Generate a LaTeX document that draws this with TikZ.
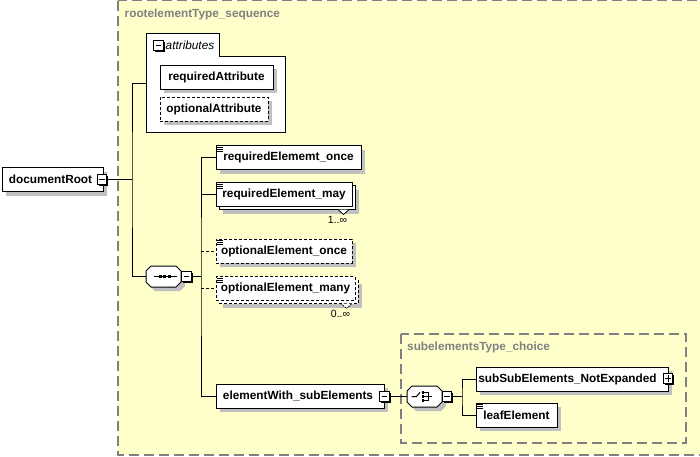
\documentclass[tikz,border=0pt]{standalone}
\usepackage{fontspec}
\setmainfont{Liberation Sans}
\usetikzlibrary{shadows}
\definecolor{bgyellow}{RGB}{255,255,204}
\definecolor{shadowgray}{RGB}{192,192,192}
\definecolor{labelgray}{RGB}{128,128,128}
\newcommand{\octo}[3]{%
\path[#3] ({#1-12.5},{#2-10.5}) -- ({#1+12.5},{#2-10.5}) -- ({#1+17.5},{#2-5.5}) -- ({#1+17.5},{#2+5.5}) -- ({#1+12.5},{#2+10.5}) -- ({#1-12.5},{#2+10.5}) -- ({#1-17.5},{#2+5.5}) -- ({#1-17.5},{#2-5.5}) -- cycle;}
\tikzset{
  elem/.style={draw, fill=white, line width=1pt, inner sep=0pt, minimum height=24pt,
    font=\fontsize{11.8}{13}\selectfont\bfseries},
  shad/.style={general shadow={fill=shadowgray, shadow xshift=4pt, shadow yshift=-4pt}},
  opt/.style={dash pattern=on 3pt off 2pt},
  simple/.style={path picture={
    \draw[line width=0.9pt, solid] ([shift={(1pt,-1.5pt)}]path picture bounding box.north west) -- ++(6pt,0);
    \draw[line width=0.9pt, solid] ([shift={(1pt,-3.5pt)}]path picture bounding box.north west) -- ++(6pt,0);
    \draw[line width=0.9pt, solid] ([shift={(1pt,-5.5pt)}]path picture bounding box.north west) -- ++(6pt,0);}},
  tog/.style={draw, fill=white, line width=0.8pt, minimum size=9.5pt, inner sep=0pt,
    general shadow={fill=black, shadow xshift=1.5pt, shadow yshift=-1.5pt},
    path picture={\draw[line width=1pt] ([xshift=2pt]path picture bounding box.west) -- ([xshift=-2pt]path picture bounding box.east);}},
  conn/.style={line width=1pt, draw=black},
  cont/.style={draw=labelgray, line width=1.5pt, dash pattern=on 10pt off 5pt},
  glabel/.style={font=\fontsize{11.8}{13}\selectfont\bfseries, text=labelgray, inner sep=0pt, anchor=west},
  card/.style={font=\fontsize{10.5}{12}\selectfont, inner sep=0pt},
  comp/.style={inner sep=0pt, minimum width=35pt, minimum height=21pt}
}
\begin{document}
\begin{tikzpicture}[x=1pt,y=-1pt]
\useasboundingbox (0,0) rectangle (700,456);
\fill[white] (0,0) rectangle (700,456);
% outer sequence container
\draw[cont, fill=bgyellow] (118,0.5) rectangle (703,455);
\node[glabel] (seqlabel) at (124.5,14) {rootelementType\_sequence};

% attributes group
\draw[line width=1pt, fill=white] (146,132) -- (146,33) -- (219,33) -- (219,56) -- (285,56) -- (285,132) -- cycle;
\node[tog] (attrtog) at (158.5,45.5) {};
\node[font=\fontsize{11.8}{13}\selectfont\itshape, anchor=west, inner sep=0pt] (attrlabel) at (165.5,45.5) {attributes};
\coordinate (attrin) at (146,83);
\node[elem, shad, minimum width=113pt] (reqattr) at (216.5,77) {requiredAttribute};
\node[elem, shad, opt, minimum width=108pt] (optattr) at (214,109) {optionalAttribute};

% root
\node[elem, shad, minimum width=101pt] (doc) at (52.5,179.5) {documentRoot\kern4pt};
\node[tog] (doctog) at (102,179.5) {};
\coordinate (j1) at (132,179.5);

% sequence compositor
\octo{163.5}{276.5}{fill=shadowgray, shift={(4,4)}}
\octo{163.5}{276.5}{draw, fill=white, line width=1pt}
\node[comp] (seq) at (163.5,276.5) {};
\draw[line width=1pt] (153.5,276.5) -- (177,276.5);
\fill (158.5,275) rectangle (161.5,278);
\fill (163,275) rectangle (166,278);
\fill (167.5,275) rectangle (170.5,278);
\node[tog] (seqtog) at (186.5,276.5) {};
\coordinate (j2) at (201,276.5);

\draw[conn] (doctog.east) -- (j1);
\draw[conn] (attrin) -| (j1) |- (seq.west);

% child elements
\node[elem, shad, simple, minimum width=145pt] (req1) at (288.5,157.5) {requiredElememt\_once};

\node[elem, shad, minimum width=136pt] (req2back) at (287,197.5) {\phantom{requiredElement\_may}};
\draw[line width=0.8pt, fill=white] (338,209.5) -- (343.5,214.5) -- (349,209.5);
\node[elem, simple, minimum width=136pt] (req2) at (284,194.5) {requiredElement\_may};
\node[card] (card1) at (337.5,220) {1..∞};

\node[elem, shad, opt, simple, minimum width=136pt] (opt1) at (284,251) {optionalElement\_once};

\node[elem, shad, opt, minimum width=139pt] (opt2back) at (288.5,291.5) {\phantom{optionalElement\_many}};
\draw[line width=0.8pt, fill=white, dash pattern=on 1.5pt off 1pt] (341,303.5) -- (346.5,308.5) -- (352,303.5);
\node[elem, opt, simple, minimum width=139pt] (opt2) at (285.5,288.5) {optionalElement\_many};
\node[card] (card2) at (340.5,313.5) {0..∞};

\node[elem, shad, minimum width=168pt] (elemsub) at (300,396) {elementWith\_subElements\kern4pt};
\node[tog] (elemtog) at (384.5,396.5) {};

\draw[conn] (seqtog.east) -- (j2);
\draw[conn] (req1.west) -| (j2) |- (elemsub.west);
\draw[conn] (req2.west -| j2) -- (req2.west);
\draw[conn, opt] (opt1.west -| j2) -- (opt1.west);
\draw[conn, opt] (opt2.west -| j2) -- (opt2.west);

% choice container
\draw[cont] (401,334) rectangle (686,443);
\node[glabel] (choicelabel) at (407,347) {subelementsType\_choice};

\octo{424.5}{396.5}{fill=shadowgray, shift={(4,4)}}
\octo{424.5}{396.5}{draw, fill=white, line width=1pt}
\node[comp] (choice) at (424.5,396.5) {};
\draw[line width=1pt] (411.5,396.5) -- (416.5,396.5) -- (420,392.3);
\fill (421.5,391.3) rectangle (424,393.8);
\fill (421.5,395.3) rectangle (424,397.8);
\fill (421.5,399.3) rectangle (424,401.8);
\draw[line width=1pt] (424,392.5) -- (428.3,392.5) -- (428.3,400.5) -- (424,400.5);
\draw[line width=1pt] (424,396.5) -- (431.5,396.5);
\node[tog] (choicetog) at (447,396.5) {};
\coordinate (j3) at (462,396.5);

\node[elem, shad, minimum width=192pt] (subsub) at (572,379) {subSubElements\_NotExpanded\kern9pt};
\node[tog] (subtog) at (668,378.5) {};
\draw[line width=1pt] ([yshift=2pt]subtog.south) -- ([yshift=-2pt]subtog.north);
\node[elem, shad, simple, minimum width=81pt] (leaf) at (516.5,415) {leafElement};

\draw[conn] (elemtog.east) -- (choice.west);
\draw[conn] (choicetog.east) -- (j3);
\draw[conn] (subsub.west) -| (j3) |- (leaf.west);
\end{tikzpicture}
\end{document}
